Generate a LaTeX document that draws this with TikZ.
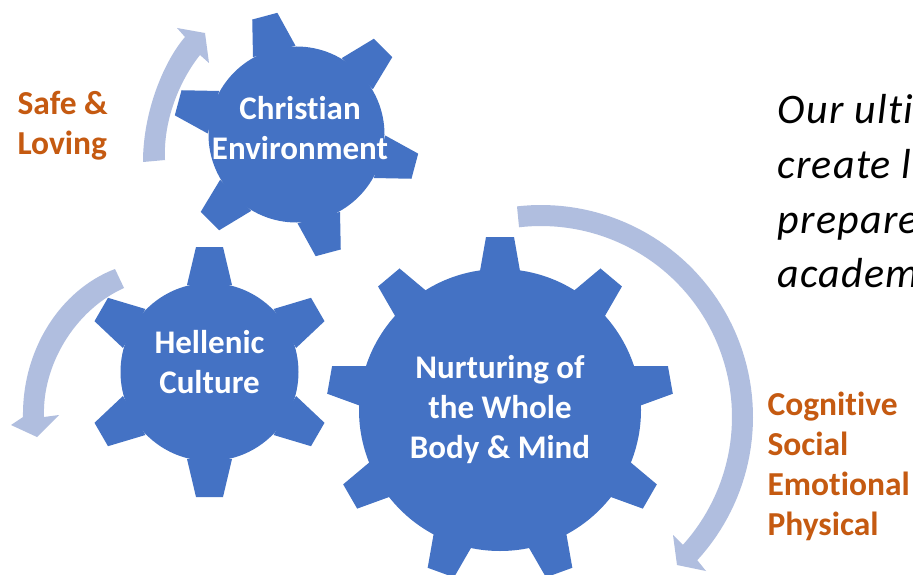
\documentclass[tikz,border=0pt]{standalone}
\usepackage{fontspec}
\setmainfont[Ligatures=NoCommon]{Carlito}
\definecolor{gearblue}{HTML}{4472C4}
\definecolor{arrowblue}{HTML}{B0BEDF}
\definecolor{labelorange}{HTML}{C55A11}
\newcommand{\gearshape}[8]{%
  % cx cy r tipR baseHalf tipHalf start n
  \fill[gearblue] (#1,#2) circle[radius=#3];
  \foreach \i in {1,...,#8}{
    \pgfmathsetmacro\a{#7-(\i-1)*360/#8}
    \pgfmathsetmacro\ca{cos(\a)}
    \pgfmathsetmacro\sa{sin(\a)}
    \fill[gearblue]
      ({#1+(#3-2)*\ca-(-#5)*\sa},{#2-((#3-2)*\sa+(-#5)*\ca)}) --
      ({#1+#4*\ca-(-#6)*\sa},{#2-(#4*\sa+(-#6)*\ca)}) --
      ({#1+#4*\ca-(#6)*\sa},{#2-(#4*\sa+(#6)*\ca)}) --
      ({#1+(#3-2)*\ca-(#5)*\sa},{#2-((#3-2)*\sa+(#5)*\ca)}) -- cycle;
  }
}
\tikzset{
  geartext/.style={text=white,font=\fontsize{33}{40}\selectfont\bfseries,align=center},
  sidelabel/.style={text=labelorange,font=\fontsize{33.5}{40}\selectfont\bfseries,align=left,anchor=west},
  bodytext/.style={text=black,font=\fontsize{42}{55}\selectfont\itshape\addfontfeature{LetterSpace=3},anchor=base west},
  blockarrow/.style={fill=arrowblue,draw=none}
}
\begin{document}
\begin{tikzpicture}[x=1pt,y=-1pt]
\useasboundingbox (0,0) rectangle (913,575);
\clip (0,0) rectangle (913,575);
\fill[white] (0,0) rectangle (913,575);
% block arrows
\fill[blockarrow] (143,162) .. controls (143,110) and (165,60) .. (185,37)
  -- (177,28) -- (205,33) -- (209,63) -- (200,55)
  .. controls (180,80) and (163,120) .. (165,160) -- cycle;
\fill[blockarrow] (115,269) .. controls (60,290) and (22,350) .. (23,417)
  -- (11,425) -- (37,437) -- (59,415) -- (44,417)
  .. controls (42,365) and (75,310) .. (124,288) -- cycle;
\fill[blockarrow]
  plot[domain=96.5:-42.5,samples=70] ({541+212*cos(\x)},{417-212*sin(\x)})
  -- (706,571) -- (677,565) -- (673,535) -- (683,545)
  -- plot[domain=-42:96.6,samples=70] ({541+191*cos(\x)},{417-191*sin(\x)}) -- cycle;
% gears
\gearshape{296.5}{134.5}{88}{122.5}{22}{13}{105}{6}
\gearshape{209.5}{372}{89}{125}{22.5}{13.5}{90}{6}
\gearshape{500}{410}{141}{173}{20}{14}{90}{9}
% gear text
\node[geartext] (christian) at (300,128.5) {Christian\\Environment};
\node[geartext] (hellenic) at (209.5,362.5) {Hellenic\\Culture};
\node[geartext] (nurture) at (500,410) {Nurturing of\\the Whole\\Body \& Mind};
% side labels
\node[sidelabel] (safe) at (14,125.5) {Safe \&\\Loving};
\node[sidelabel] (domains) at (764,466) {Cognitive\\Social\\Emotional\\Physical};
% body text, cut off at the picture's right edge
\node[bodytext] (l1) at (774,123.5) {Our ulti};
\node[bodytext] (l2) at (774,178.5) {create l};
\node[bodytext] (l3) at (774,233.5) {prepare};
\node[bodytext] (l4) at (774,287.5) {academ};
\end{tikzpicture}
\end{document}
